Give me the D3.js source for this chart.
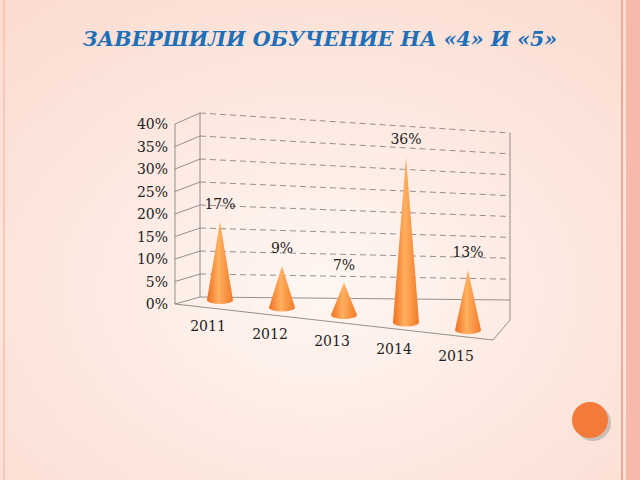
<!DOCTYPE html>
<html><head><meta charset="utf-8">
<script src="https://cdn.jsdelivr.net/npm/d3@7"></script>
<style>body{margin:0;overflow:hidden}</style>
</head><body>
<svg id="c" width="640" height="480"></svg>
<script>
const years = ["2011", "2012", "2013", "2014", "2015"];
const values = [17, 9, 7, 36, 13];
const ticks = [0, 5, 10, 15, 20, 25, 30, 35, 40];

const svg = d3.select("#c");
const defs = svg.append("defs");

const bg = defs.append("radialGradient").attr("id", "bg").attr("cx", "50%").attr("cy", "60%").attr("r", "75%");
bg.append("stop").attr("offset", "0").attr("stop-color", "#fff6f2");
bg.append("stop").attr("offset", "1").attr("stop-color", "#fbdcd0");

const cg = defs.append("linearGradient").attr("id", "cone");
cg.append("stop").attr("offset", "0").attr("stop-color", "#f07020");
cg.append("stop").attr("offset", "0.45").attr("stop-color", "#ffb060");
cg.append("stop").attr("offset", "1").attr("stop-color", "#f27a28");

svg.append("rect").attr("width", 640).attr("height", 480).attr("fill", "url(#bg)");
svg.append("rect").attr("x", 626).attr("width", 14).attr("height", 480).attr("fill", "#f6b8a8");
svg.append("line").attr("x1", 622).attr("x2", 622).attr("y2", 480).attr("stroke", "#f0a898").attr("stroke-width", 2);
svg.append("line").attr("x1", 4).attr("x2", 4).attr("y2", 480).attr("stroke", "#f8c8b8").attr("stroke-width", 2);

svg.append("text").attr("x", 320).attr("y", 46).attr("text-anchor", "middle")
  .attr("font-family", "DejaVu Serif").attr("font-weight", "bold").attr("font-style", "italic")
  .attr("font-size", 20.5).attr("fill", "#1c6fb8").text("ЗАВЕРШИЛИ ОБУЧЕНИЕ НА «4» И «5»");

// 3D frame scales
const yBackL = d3.scaleLinear().domain([0, 40]).range([297, 113]);
const yBackR = d3.scaleLinear().domain([0, 40]).range([300, 133]);
const yFront = d3.scaleLinear().domain([0, 40]).range([304, 124]);
const xPos = d3.scalePoint().domain(years).range([220, 468]);
const baseY = d3.scaleLinear().domain([220, 468]).range([300, 330]);
const h = d3.scaleLinear().domain([0, 40]).range([0, 184]);

const g = svg.append("g").attr("stroke", "#777").attr("fill", "none").attr("stroke-width", 0.8);
ticks.forEach(t => {
  g.append("line").attr("x1", 200).attr("y1", yBackL(t)).attr("x2", 510).attr("y2", yBackR(t))
    .attr("stroke-dasharray", t === 0 ? null : "6,4");
  g.append("line").attr("x1", 175).attr("y1", yFront(t)).attr("x2", 200).attr("y2", yBackL(t));
});
g.append("line").attr("x1", 200).attr("y1", yBackL(0)).attr("x2", 200).attr("y2", yBackL(40));
g.append("line").attr("x1", 510).attr("y1", 320).attr("x2", 510).attr("y2", yBackR(40));
g.append("line").attr("x1", 175).attr("y1", yFront(0)).attr("x2", 175).attr("y2", yFront(40));
g.append("line").attr("x1", 175).attr("y1", yFront(0)).attr("x2", 493).attr("y2", 340);
g.append("line").attr("x1", 493).attr("y1", 340).attr("x2", 510).attr("y2", 320);

svg.selectAll(".tick").data(ticks).join("text")
  .attr("x", 168).attr("y", d => yFront(d) + 5).attr("text-anchor", "end")
  .attr("font-family", "DejaVu Serif").attr("font-size", 14).attr("fill", "#222")
  .text(d => d + "%");

const data = years.map((y, i) => ({ y, v: values[i], x: xPos(y), b: baseY(xPos(y)) }));
const rw = 13, ry = 4;
const cones = svg.selectAll(".cone").data(data).join("g");
cones.append("path").attr("fill", "url(#cone)")
  .attr("d", d => `M${d.x - rw},${d.b} L${d.x},${d.b - h(d.v)} L${d.x + rw},${d.b} A${rw},${ry} 0 0 1 ${d.x - rw},${d.b} Z`);

svg.selectAll(".lab").data(data).join("text")
  .attr("x", d => d.x).attr("y", d => d.b - h(d.v) - 13).attr("text-anchor", "middle")
  .attr("font-family", "DejaVu Serif").attr("font-size", 14).attr("fill", "#222")
  .text(d => d.v + "%");

svg.selectAll(".cat").data(data).join("text")
  .attr("x", d => d.x - 12).attr("y", d => d.b + 31).attr("text-anchor", "middle")
  .attr("font-family", "DejaVu Serif").attr("font-size", 14).attr("fill", "#222")
  .text(d => d.y);

svg.append("circle").attr("cx", 593).attr("cy", 423).attr("r", 18).attr("fill", "#999").attr("opacity", 0.5);
svg.append("circle").attr("cx", 590).attr("cy", 420).attr("r", 18).attr("fill", "#f47a3a");
</script>
</body></html>
